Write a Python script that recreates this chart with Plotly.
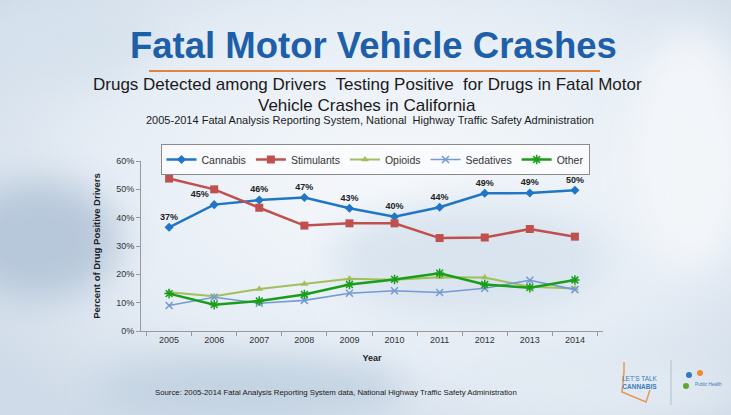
import base64
import plotly.graph_objects as go

# ---------------- data ----------------
years = ["2005", "2006", "2007", "2008", "2009", "2010", "2011", "2012", "2013", "2014"]
cannabis = [36.6, 44.6, 46.2, 47.1, 43.3, 40.3, 43.7, 48.6, 48.7, 49.7]
stimulants = [53.8, 50.0, 43.5, 37.2, 38.0, 38.0, 32.8, 33.0, 36.0, 33.3]
opioids = [13.7, 12.3, 14.8, 16.6, 18.4, 18.1, 19.0, 18.9, 15.6, 15.0]
sedatives = [9.0, 11.9, 9.8, 10.8, 13.3, 14.2, 13.6, 15.1, 17.9, 14.6]
other = [13.2, 9.3, 10.6, 12.9, 16.4, 18.2, 20.4, 16.4, 15.3, 18.0]
y_ticks = [0, 10, 20, 30, 40, 50, 60]
y_tick_labels = ["0%", "10%", "20%", "30%", "40%", "50%", "60%"]

title = "Fatal Motor Vehicle Crashes"
subtitle1 = "Drugs Detected among Drivers  Testing Positive  for Drugs in Fatal Motor"
subtitle2 = "Vehicle Crashes in California"
subtitle3 = "2005-2014 Fatal Analysis Reporting System, National  Highway Traffic Safety Administration"
source = "Source: 2005-2014 Fatal Analysis Reporting System data, National Highway Traffic Safety Administration"

# ---------------- geometry helpers ----------------
CW, CH = 731, 415
L, R, T, B = 141, 603, 161, 331
W, H = R - L, B - T


def px(x):
    return (x - L) / W


def py(y):
    return (B - y) / H


FONT = "Arial, Liberation Sans, sans-serif"

# ---------------- background (soft bluish photo-like wash) ----------------
svg = f"""<svg xmlns='http://www.w3.org/2000/svg' width='{CW}' height='{CH}' viewBox='0 0 {CW} {CH}'>
<defs>
<radialGradient id='g1' cx='0.55' cy='0.45' r='0.7'>
<stop offset='0' stop-color='#f6f9fc'/><stop offset='0.6' stop-color='#e6edf5'/><stop offset='1' stop-color='#cfdbe8'/>
</radialGradient>
<filter id='b' x='-50%' y='-50%' width='200%' height='200%'><feGaussianBlur stdDeviation='18'/></filter>
</defs>
<rect width='{CW}' height='{CH}' fill='url(#g1)'/>
<g filter='url(#b)' opacity='0.9'>
<ellipse cx='40' cy='240' rx='80' ry='60' fill='#b3c5d8'/>
<ellipse cx='60' cy='40' rx='90' ry='40' fill='#d6e2ed'/>
<ellipse cx='250' cy='390' rx='160' ry='35' fill='#c1d1e1'/>
<ellipse cx='470' cy='260' rx='140' ry='60' fill='#d8e3ee'/>
<ellipse cx='690' cy='150' rx='60' ry='120' fill='#f4f7fa'/>
<ellipse cx='600' cy='390' rx='140' ry='30' fill='#e3ebf3'/>
</g>
</svg>"""
bg_uri = "data:image/svg+xml;base64," + base64.b64encode(svg.encode()).decode()

fig = go.Figure()

series = [
    ("Cannabis", cannabis, "#2076c6", 2.5, "diamond", 7, None),
    ("Stimulants", stimulants, "#c0504d", 2.5, "square", 8, None),
    ("Opioids", opioids, "#a2bf5c", 2.0, "triangle-up", 7, None),
    ("Sedatives", sedatives, "#759ad4", 1.6, "x-thin", 7, 1.5),
    ("Other", other, "#1a9e1a", 2.5, "asterisk", 8, 1.5),
]

for name, vals, color, lw, sym, ms, mlw in series:
    marker = dict(symbol=sym, size=ms, color=color)
    if mlw is not None:
        marker["line"] = dict(color=color, width=mlw)
    if name == "Cannabis":
        kw = dict(
            mode="lines+markers+text",
            text=[f"{round(v)}%" for v in vals],
            textposition=["top center", "top left"] + ["top center"] * (len(vals) - 2),
            textfont=dict(family=FONT, size=9, color="#222222", weight="bold"),
        )
    else:
        kw = dict(mode="lines+markers")
    fig.add_trace(
        go.Scatter(
            x=years, y=vals, name=name,
            line=dict(color=color, width=lw),
            marker=marker,
            cliponaxis=False,
            **kw,
        )
    )

annotations = [
    dict(text=title, x=px(373), y=py(45), font=dict(family=FONT, size=36.5, color="#1d5fa8", weight="bold")),
    dict(text=subtitle1, x=px(367), y=py(84), font=dict(family=FONT, size=17, color="#1a1a1a")),
    dict(text=subtitle2, x=px(367), y=py(105), font=dict(family=FONT, size=17, color="#1a1a1a")),
    dict(text=subtitle3, x=px(370), y=py(120), font=dict(family=FONT, size=11, color="#1a1a1a")),
    dict(text=source, x=px(336), y=py(392), font=dict(family=FONT, size=7.8, color="#1a1a1a")),
    dict(text="LET'S TALK<br><b>CANNABIS</b>", x=px(640), y=py(382),
         font=dict(family=FONT, size=6.5, color="#3b7bbd")),
    dict(text="Public Health", x=px(708), y=py(384),
         font=dict(family=FONT, size=4.5, color="#3b7bbd")),
]
for a in annotations:
    a.update(xref="paper", yref="paper", showarrow=False, xanchor="center", yanchor="middle")

shapes = [
    dict(type="line", xref="paper", yref="paper", x0=px(149), x1=px(600), y0=py(71), y1=py(71),
         line=dict(color="#e0843c", width=2)),
    dict(type="line", xref="paper", yref="paper", x0=px(671), x1=px(671), y0=py(360), y1=py(405),
         line=dict(color="#b0bfcf", width=1)),
    dict(type="path", xref="paper", yref="paper",
         path=f"M {px(624)},{py(362)} L {px(624)},{py(372)} L {px(622)},{py(392)} L {px(646)},{py(402)} L {px(650)},{py(390)}",
         line=dict(color="#e39a55", width=1.5)),
    dict(type="circle", xref="paper", yref="paper", x0=px(686), x1=px(692), y0=py(378), y1=py(372),
         fillcolor="#2e78c8", line=dict(width=0)),
    dict(type="circle", xref="paper", yref="paper", x0=px(697), x1=px(703), y0=py(376), y1=py(370),
         fillcolor="#f08a2c", line=dict(width=0)),
    dict(type="circle", xref="paper", yref="paper", x0=px(683), x1=px(689), y0=py(389), y1=py(383),
         fillcolor="#5aa832", line=dict(width=0)),
]

fig.update_layout(
    template="none",
    width=CW, height=CH,
    margin=dict(l=L, r=CW - R, t=T, b=CH - B, pad=0),
    paper_bgcolor="#e9eff5",
    plot_bgcolor="rgba(0,0,0,0)",
    font=dict(family=FONT, size=9, color="#333333"),
    showlegend=True,
    legend=dict(
        orientation="h",
        x=px(375), xanchor="center",
        y=py(144), yanchor="top",
        bgcolor="rgba(250,252,254,0.85)",
        bordercolor="#8a8a8a", borderwidth=1,
        font=dict(family=FONT, size=10.5, color="#333333"),
        itemwidth=30,
        tracegroupgap=0,
    ),
    xaxis=dict(
        type="category",
        showgrid=False, zeroline=False,
        showline=True, linecolor="#9a9a9a", linewidth=1,
        ticks="outside", ticklen=4, tickcolor="#9a9a9a", tickson="boundaries",
        tickfont=dict(family=FONT, size=9, color="#333333"),
        title=dict(text="<b>Year</b>", font=dict(family=FONT, size=9, color="#222222"), standoff=10),
        automargin=False,
    ),
    yaxis=dict(
        range=[0, 60],
        tickvals=y_ticks, ticktext=y_tick_labels,
        showgrid=False, zeroline=False,
        showline=True, linecolor="#9a9a9a", linewidth=1,
        ticks="outside", ticklen=4, tickcolor="#9a9a9a",
        tickfont=dict(family=FONT, size=9, color="#333333"),
        title=dict(text="<b>Percent of Drug Positive Drivers</b>",
                   font=dict(family=FONT, size=9.5, color="#222222"), standoff=13),
        automargin=False,
    ),
    annotations=annotations,
    shapes=shapes,
    images=[dict(source=bg_uri, xref="paper", yref="paper",
                 x=px(0), y=py(0), sizex=CW / W, sizey=CH / H,
                 xanchor="left", yanchor="top", sizing="stretch", layer="below")],
)

fig.write_html(
    "out.html",
    config={"displayModeBar": False},
    post_script="document.body.style.margin='0';document.body.style.overflow='hidden';",
)
